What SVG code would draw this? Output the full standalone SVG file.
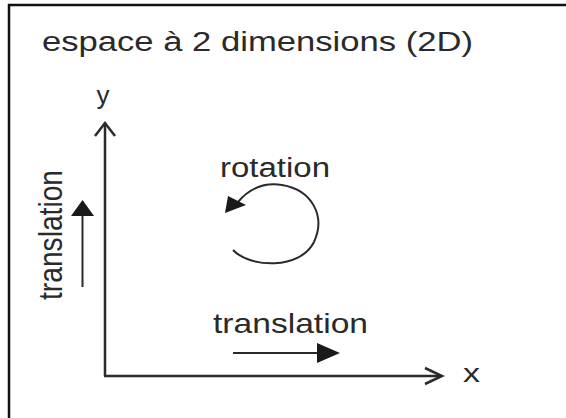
<svg xmlns="http://www.w3.org/2000/svg" width="566" height="418" viewBox="0 0 566 418">
<style>
text{font-family:"Liberation Sans",Arial,sans-serif;fill:#2a2a2a;}
.ln{stroke:#2a2a2a;stroke-width:2.5;fill:none;}
.thin{stroke:#2a2a2a;stroke-width:2;fill:none;}
.hd{fill:#1a1a1a;stroke:none;}
</style>
<rect x="0" y="0" width="566" height="418" fill="#fff"/>
<g id="frame">
<path d="M9,418 V5 H566" stroke="#111" stroke-width="2.5" fill="none"/>
</g>
<g id="title">
<text x="42" y="51" font-size="27" textLength="431" lengthAdjust="spacingAndGlyphs">espace à 2 dimensions (2D)</text>
</g>
<g id="connectors">
<g id="axis-y">
<path class="ln" d="M105,376 V124"/>
<path class="ln" d="M95,136 L105,123 L115,136"/>
</g>
<g id="axis-x">
<path class="ln" d="M104,376 H441"/>
<path class="ln" d="M425,368 L442,376 L425,384"/>
</g>
<g id="arrow-translation-v">
<path class="thin" d="M82.5,287 V214"/>
<polygon class="hd" points="82.5,200 71,216 94,216"/>
</g>
<g id="arrow-translation-h">
<path class="thin" d="M233,353 H320"/>
<polygon class="hd" points="340,353 317,343 317,363"/>
</g>
<g id="arrow-rotation">
<path class="thin" d="M233,250 C250,268 300,270 314,242 C326,216 312,190 282,185 C262,182 248,190 238,202"/>
<polygon class="hd" points="225,213 228,196 246,205"/>
</g>
</g>
<g id="label-y"><text x="103" y="104" font-size="26" text-anchor="middle">y</text></g>
<g id="label-x"><text x="463" y="382" font-size="26" textLength="17" lengthAdjust="spacingAndGlyphs">x</text></g>
<g id="label-rotation"><text x="220" y="177" font-size="27" textLength="110" lengthAdjust="spacingAndGlyphs">rotation</text></g>
<g id="label-translation-h"><text x="213" y="333" font-size="28" textLength="155" lengthAdjust="spacingAndGlyphs">translation</text></g>
<g id="label-translation-v"><text transform="translate(62,300) scale(1.24,1) rotate(-90)" x="0" y="0" font-size="27" textLength="130" lengthAdjust="spacingAndGlyphs">translation</text></g>
</svg>
